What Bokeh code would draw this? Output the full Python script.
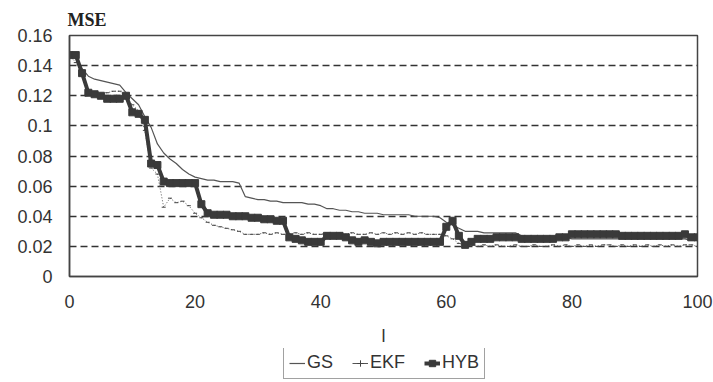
from bokeh.plotting import figure
from bokeh.layouts import column
from bokeh.models import FixedTicker, Legend, LegendItem, Title
from bokeh.embed import file_html
from bokeh.resources import INLINE

x = list(range(0, 101))

gs = [0.147, 0.145, 0.138, 0.133, 0.131, 0.130, 0.129, 0.128, 0.127, 0.122,
      0.118, 0.114, 0.106, 0.099, 0.088, 0.082, 0.078, 0.075, 0.071, 0.068,
      0.066, 0.065, 0.064, 0.064, 0.063, 0.063, 0.063, 0.062, 0.053, 0.052,
      0.051, 0.051, 0.050, 0.050, 0.049, 0.049, 0.049, 0.049, 0.048, 0.048,
      0.047, 0.045, 0.045, 0.044, 0.044, 0.043, 0.043, 0.042, 0.042, 0.042,
      0.041, 0.041, 0.041, 0.041, 0.041, 0.040, 0.040, 0.040, 0.040, 0.039,
      0.036, 0.034, 0.032, 0.030, 0.030, 0.030, 0.029, 0.029, 0.029, 0.029,
      0.029, 0.029, 0.027, 0.026, 0.026, 0.026, 0.026, 0.026, 0.026, 0.026,
      0.025, 0.025, 0.025, 0.025, 0.025, 0.025, 0.025, 0.025, 0.025, 0.025,
      0.025, 0.025, 0.025, 0.025, 0.025, 0.025, 0.025, 0.025, 0.025, 0.024,
      0.024]

ekf = [0.147, 0.142, 0.135, 0.123, 0.121, 0.121, 0.122, 0.123, 0.123, 0.119,
       0.114, 0.110, 0.097, 0.072, 0.068, 0.046, 0.052, 0.049, 0.050, 0.047,
       0.042, 0.039, 0.036, 0.034, 0.033, 0.032, 0.031, 0.030, 0.028, 0.028,
       0.028, 0.029, 0.028, 0.029, 0.028, 0.028, 0.029, 0.028, 0.029, 0.028,
       0.028, 0.029, 0.028, 0.029, 0.028, 0.029, 0.028, 0.028, 0.029, 0.028,
       0.029, 0.028, 0.029, 0.028, 0.029, 0.028, 0.029, 0.028, 0.028, 0.028,
       0.027, 0.025, 0.022, 0.020, 0.021, 0.020, 0.021, 0.020, 0.021, 0.020,
       0.020, 0.021, 0.020, 0.020, 0.021, 0.020, 0.020, 0.021, 0.020, 0.021,
       0.020, 0.021, 0.020, 0.021, 0.020, 0.021, 0.021, 0.020, 0.021, 0.020,
       0.021, 0.020, 0.021, 0.020, 0.021, 0.020, 0.021, 0.020, 0.021, 0.021,
       0.020]

hyb = [0.147, 0.147, 0.135, 0.122, 0.121, 0.120, 0.118, 0.118, 0.118, 0.120,
       0.109, 0.108, 0.104, 0.075, 0.074, 0.063, 0.062, 0.062, 0.062, 0.062,
       0.062, 0.048, 0.042, 0.041, 0.041, 0.041, 0.040, 0.040, 0.040, 0.039,
       0.039, 0.038, 0.038, 0.037, 0.037, 0.026, 0.025, 0.024, 0.023, 0.023,
       0.023, 0.027, 0.027, 0.027, 0.026, 0.024, 0.023, 0.024, 0.023, 0.022,
       0.023, 0.023, 0.023, 0.023, 0.023, 0.023, 0.023, 0.023, 0.023, 0.023,
       0.033, 0.037, 0.027, 0.021, 0.023, 0.025, 0.025, 0.025, 0.026, 0.026,
       0.026, 0.026, 0.025, 0.025, 0.025, 0.025, 0.025, 0.025, 0.026, 0.026,
       0.028, 0.028, 0.028, 0.028, 0.028, 0.028, 0.028, 0.028, 0.027, 0.027,
       0.027, 0.027, 0.027, 0.027, 0.027, 0.027, 0.027, 0.027, 0.028, 0.026,
       0.026]

y_ticks = [0, 0.02, 0.04, 0.06, 0.08, 0.1, 0.12, 0.14, 0.16]
y_tick_labels = ["0", "0.02", "0.04", "0.06", "0.08", "0.1", "0.12", "0.14", "0.16"]
x_ticks = [0, 20, 40, 60, 80, 100]
series_names = ["GS", "EKF", "HYB"]

p = figure(width=713, height=348, output_backend="svg", toolbar_location=None,
           x_range=(0, 100), y_range=(0, 0.16),
           min_border_left=69, min_border_right=16, min_border_top=35, min_border_bottom=66)

p.title = Title(text="MSE", text_font="Liberation Serif", text_font_size="18px",
                text_font_style="bold", text_color="#222222", align="left",
                offset=-2, standoff=11)

p.background_fill_color = "white"
p.border_fill_color = "white"
p.outline_line_color = "#444444"
p.outline_line_width = 1.5

p.xgrid.grid_line_color = None
p.ygrid.grid_line_color = "#333333"
p.ygrid.grid_line_dash = "7 4"
p.ygrid.grid_line_width = 1.5
p.yaxis.ticker = FixedTicker(ticks=y_ticks)
p.yaxis.major_label_overrides = {t: l for t, l in zip(y_ticks, y_tick_labels)}
p.xaxis.ticker = FixedTicker(ticks=x_ticks)

for ax in (p.xaxis, p.yaxis):
    ax.axis_line_color = "#444444"
    ax.axis_line_width = 1.5
    ax.major_tick_line_color = None
    ax.minor_tick_line_color = None
    ax.major_tick_out = 0
    ax.major_tick_in = 0
    ax.major_label_text_font = "Liberation Sans"
    ax.major_label_text_font_size = "18px"
    ax.major_label_text_color = "#333333"

p.yaxis.major_label_standoff = 17
p.xaxis.major_label_standoff = 18
p.xaxis.axis_label = "l"
p.xaxis.axis_label_text_font = "Liberation Sans"
p.xaxis.axis_label_text_font_size = "18px"
p.xaxis.axis_label_text_font_style = "normal"
p.xaxis.axis_label_text_color = "#333333"
p.xaxis.axis_label_standoff = 15

gs_style = dict(line_color="#555555", line_width=1.2)
ekf_line_style = dict(line_color="#555555", line_width=1, line_dash="1 2")
ekf_mark_style = dict(marker="dash", size=4, line_color="#444444", line_width=1)
hyb_line_style = dict(line_color="#3a3a3a", line_width=4)
hyb_mark_style = dict(marker="square", size=7, fill_color="#3a3a3a", line_color="#3a3a3a")

p.line(x, gs, **gs_style)
p.line(x, ekf, **ekf_line_style)
p.scatter(x, ekf, **ekf_mark_style)
p.line(x, hyb, **hyb_line_style)
p.scatter(x, hyb, **hyb_mark_style)

# legend strip below the chart (its glyph renderers sit outside the visible range)
q = figure(width=713, height=33, output_backend="svg", toolbar_location=None,
           x_range=(0, 1), y_range=(0, 1), min_border=0,
           x_axis_location=None, y_axis_location=None)
q.outline_line_color = None
q.grid.visible = False
q.border_fill_color = "white"
q.background_fill_color = "white"
off = [-10, -9]
l_gs = q.line(off, off, **gs_style)
l_ekf = q.line(off, off, line_color="#555555", line_width=1)
l_ekf_m = q.scatter(off, off, marker="cross", size=6, line_color="#444444", line_width=1)
l_hyb = q.line(off, off, **hyb_line_style)
l_hyb_m = q.scatter(off, off, **hyb_mark_style)

legend = Legend(items=[LegendItem(label=series_names[0], renderers=[l_gs]),
                       LegendItem(label=series_names[1], renderers=[l_ekf, l_ekf_m]),
                       LegendItem(label=series_names[2], renderers=[l_hyb, l_hyb_m])],
                orientation="horizontal", location=(214, 2))
legend.label_text_font = "Liberation Sans"
legend.label_text_font_size = "18px"
legend.label_text_color = "#333333"
legend.border_line_color = "#444444"
legend.border_line_width = 1.5
legend.background_fill_color = "white"
legend.glyph_width = 16
legend.glyph_height = 18
legend.label_standoff = 2
legend.spacing = 19
legend.padding = 5
legend.margin = 0
legend.label_height = 19
q.add_layout(legend)

layout = column(p, q, spacing=0)
open("out.html", "w").write(file_html(layout, INLINE))
